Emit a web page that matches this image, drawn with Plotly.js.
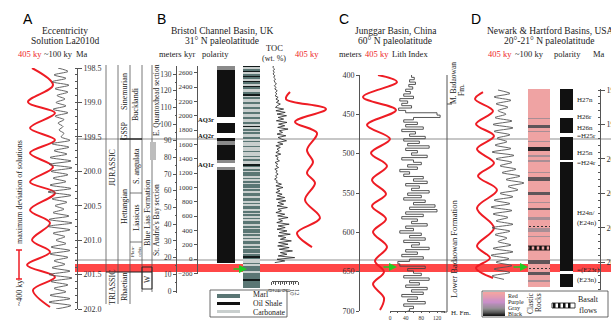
<!DOCTYPE html>
<html><head><meta charset="utf-8">
<script src="https://cdn.plot.ly/plotly-3.0.1.min.js"></script>
<style>html,body{margin:0;padding:0;background:#fff}#chart{width:611px;height:320px}</style>
</head><body><div id="chart"></div>
<script>
// ---------------- DATA ----------------
// Panel A: La2010d eccentricity (405 ky red, ~100 ky gray), vs age (Ma)
const aRedMa = [198.500,198.747,198.994,199.153,199.371,199.546,199.734,199.938,200.156,200.315,200.562,200.751,200.998,201.172,201.361,201.535,201.724,201.971];
const aRedE  = [8,29,4,31,6,31,6,29,6,31,6,26,8,26,3,31,9,26];
const aGrayMa = [198.50,198.55,198.60,198.65,198.70,198.75,198.80,198.85,198.90,198.95,199.00,199.05,199.10,199.15,199.20,199.25,199.30,199.35,199.40,199.45,199.50,199.55,199.60,199.65,199.70,199.75,199.80,199.85,199.90,199.95,200.00,200.05,200.10,200.15,200.20,200.25,200.30,200.35,200.40,200.45,200.50,200.55,200.60,200.65,200.70,200.75,200.80,200.85,200.90,200.95,201.00,201.05,201.10,201.15,201.20,201.25,201.30,201.35,201.40,201.45,201.50,201.55,201.60,201.65,201.70,201.75,201.80,201.85,201.90,201.95,202.00];
const aGrayE = [14,24,10,22,8,25,11,24,13,21, 12,22,9,24,11,20,14,19,15,20, 17,26,8,25,10,23,6,27,5,28, 7,24,9,22,6,27,4,27,8,23, 11,20,9,25,5,28,4,26,9,21, 12,22,7,26,6,24,10,21,8,26, 5,28,7,24,10,22,6,26,5,27, 12];

// Panel B: Bristol Channel Basin
const bPolTop  = [134.8,132.4,104.3,100.7,94.7,91.7,89.9,87.5,78.5,76.7,74.3,72.5];
const bPolBot  = [132.4,104.3,100.7,94.7,91.7,89.9,87.5,78.5,76.7,74.3,72.5,16.8];
const bPolType = ['g','k','w','k','w','k','g','k','g','w','g','k'];
const bPolLabels = ['AQ3r','AQ2r','AQ1r'];
const bPolLabelM = [102.5,93.0,75.5];
const bLithTopM = 135;
const bLithCodes = ("OCMOCMOMCO"+"MCOMCCMOCM"+"CCMCCMCCMC"+"CMCCMCOCMC"+"MCCMCMCCMC"+"CMCCMCMCCO"+"MCMCMMCMCM"+
                    "CMMCMCMMCM"+"MCMCMMCMCM"+"CMCMMCMCMM"+"CMCMCMMCMC"+"MMCMOMCCMC"+"MMMCMMMMOMMMM").split('');
const bTocM = [135,134,133,132,131,130,129,128,127,126,125,124,123,122,121,120,119,118,117,116,115,114,113,112,111,110,109,108,107,106,105,104,103,102,101,100,99,98,97,96,95,94,93,92,91,90,89,88,87,86,85,84,83,82,81,80,79,78,77,76,75,74,73,72,71,70,69,68,67,66,65,64,63,62,61,60,59,58,57,56,55,54,53,52,51,50,49,48,47,46,45,44,43,42,41,40,39,38,37,36,35,34,33,32,31,30,29,28,27,26,25,24,23,22,21,20,19,18,17];
const bTocVal = [1.0,0.6,1.4,0.8,1.2,0.7,1.5,1.0,1.8,1.2, 1.6,2.2,1.3,2.0,1.5,2.6,1.8,2.4,1.6,3.0, 2.0,3.4,2.2,4.0,2.6,1.8,5.5,2.0,6.2,2.5,
                 6.8,3.0,5.5,2.2,7.0,3.2,6.0,2.8,7.5,3.5, 5.0,2.5,6.5,3.0,4.5,6.8,2.8,5.2,2.0,4.0, 2.5,3.5,2.0,4.2,1.8,3.0,2.4,3.6,1.6,2.8,
                 2.0,3.2,1.5,2.6,2.0,3.0,1.8,2.5,1.4,2.6, 2.2,4.5,2.0,5.2,2.4,3.8,2.0,4.8,2.6,6.0, 2.2,6.5,3.0,5.5,2.5,7.2,3.0,4.5,2.0,6.0,
                 2.8,7.5,3.2,5.0,2.4,8.0,3.0,6.2,2.5,7.0, 3.5,8.5,3.0,6.5,4.0,9.0,3.2,7.5,2.8,8.0, 3.5,9.5,4.0,7.0,3.0,10.5,2.5,6.0,1.5];
const bRedKyr = [2330,2232,2093,1912,1758,1521,1353,1200,1060,823,572,363,167];
const bRedE   = [10,6,46,15,37,27,33,27,35,25,40,17,32];

// Panel C: Junggar Basin
const cRedM = [400.0,408.9,428.0,444.5,463.6,481.4,499.2,515.7,533.5,551.3,566.5,583.1,599.6,618.6,636.4,650.4,665.7,683.5,698.7];
const cRedE = [18,37,3,36,7,30,11,27,12,26,12,26,13,27,15,24,13,24,20];
const cLithM = [400,403,406,409,412,415,418,421,424,427,430,433,436,439,442,445,448,451,454,457,460,463,466,469,472,475,478,481,484,487,490,493,496,499,502,505,508,511,514,517,520,523,526,529,532,535,538,541,544,547,550,553,556,559,562,565,568,571,574,577,580,583,586,589,592,595,598,601,604,607,610,613,616,619,622,625,628,631,634,637,640,643,646,649,652,655,658,661,664,667,670,673,676,679,682,685,688,691,694,697,700];
const cLithIdx = [55,62,50,65,48,58,40,52,35,60, 25,45,30,55,22,40,120,128,60,35, 70,40,85,30,65,50,90,35,75,45, 100,40,70,55,95,30,60,80,45,70,
                  25,50,35,85,60,95,40,75,55,100, 45,80,35,90,60,115,50,120,40,85, 30,70,55,95,40,60,25,80,50,90, 35,75,55,100,40,70,30,85,50,20,
                  25,90,45,60,80,35,100,50,75,40, 95,55,85,30,70,45,90,35,60,50, 45];

// Panel D: Newark & Hartford Basins
const dRedMa = [199.029,199.131,199.305,199.494,199.668,199.857,200.060,200.249,200.452,200.714,201.004,201.266,201.440,201.585,201.730];
const dRedE  = [13,5,23,6,24,7,24,8,27,7,24,7,20,6,23];
const dGrayMa = [199.00,199.05,199.10,199.15,199.20,199.25,199.30,199.35,199.40,199.45,199.50,199.55,199.60,199.65,199.70,199.75,199.80,199.85,199.90,199.95,200.00,200.05,200.10,200.15,200.20,200.25,200.30,200.35,200.40,200.45,200.50,200.55,200.60,200.65,200.70,200.75,200.80,200.85,200.90,200.95,201.00,201.05,201.10,201.15,201.20,201.25,201.30,201.35,201.40,201.45,201.50,201.55,201.60,201.65,201.70,201.75];
const dGrayE = [12,24,8,25,10,22,12,20,9,26, 7,27,8,24,11,21,9,25,6,28, 10,26,14,30,16,34,20,38,22,32, 14,27,8,24,5,26,7,22,10,27, 6,24,9,21,12,25,7,27,5,23, 10,26,8,24,6,18];
const dColumnMa = [198.985,201.861];
const dStripeTop  = [199.407,199.508,199.595,199.741,199.828,199.944,200.017,200.191,200.263,200.481,200.626,200.714,200.844,201.004,201.120,201.469,201.643,201.759];
const dStripeBot  = [199.421,199.552,199.610,199.755,199.886,199.973,200.046,200.205,200.322,200.525,200.641,200.743,200.888,201.062,201.135,201.527,201.687,201.788];
const dStripeType = ['gray','dark','gray','gray','black','gray','gray','gray','dark','dark','gray','dark','gray','gray','gray','dark','dark','gray'];
const dDotTop = [200.968,201.578], dDotBot = [200.984,201.594];
const dBasaltTop = [201.265], dBasaltBot = [201.324];
const dPolTop  = [198.985,199.290,199.407,199.624,199.683,200.017,200.046,201.628,201.672];
const dPolBot  = [199.290,199.407,199.624,199.683,200.017,200.046,201.628,201.672,201.861];
const dPolType = ['k','w','k','w','k','w','k','w','k'];
const legendZ = [[0,0],[1,1],[2,2],[3,3],[4,4],[5,5],[6,6],[7,7],[8,8],[9,9]];

// ---------------- HELPERS ----------------
const SERIF = 'Liberation Serif, Times New Roman, serif';
const SANS = 'Liberation Sans, Arial, sans-serif';
const RED = '#ee1c24', AX = '#555';
const W = 611, H = 320;
const px = v => v / W, py = v => 1 - v / H;
const dx = (a, b) => [a / W, b / W];
const dy = (t, b) => [1 - b / H, 1 - t / H];
const hid = (domain, range, anchor) => ({domain, range, anchor, visible:false, fixedrange:true});
const tickStyle = (size) => ({showline:true, linecolor:AX, linewidth:1, ticks:'outside', tickcolor:AX, ticklen:3, tickwidth:1,
  showgrid:false, zeroline:false, fixedrange:true, tickfont:{family:SERIF, size:size, color:'#333'}});
const polColor = {k:'#111', w:'#fff', g:'#8a8a8a'};
const lithColor = {M:'#5a7674', O:'#121a1a', C:'#c9cfce'};
const stripeColor = {gray:'#a88e95', dark:'#5f5559', black:'#2a2628'};

function colBar(tops, bots, colors, xa, ya, extra) {
  return Object.assign({type:'bar', xaxis:xa, yaxis:ya, x:tops.map(() => 0), base:bots.map((b, i) => Math.min(b, tops[i])),
    y:bots.map((b, i) => Math.abs(tops[i] - b)), width:1, marker:{color:colors, line:{width:0}}, hoverinfo:'skip'}, extra || {});
}

// ---------------- TRACES ----------------
const data = [];
data.push({type:'scatter', mode:'lines', x:aRedE, y:aRedMa, xaxis:'x', yaxis:'y', line:{color:RED, width:2, shape:'spline', smoothing:1}});
data.push({type:'scatter', mode:'lines', x:aGrayE, y:aGrayMa, xaxis:'x2', yaxis:'y', line:{color:'#555', width:0.9, shape:'spline', smoothing:0.8}});
data.push(colBar(bPolTop, bPolBot, bPolType.map(t => polColor[t]), 'x3', 'y2'));
const lTop = bLithCodes.map((c, i) => bLithTopM - i), lBot = bLithCodes.map((c, i) => bLithTopM - i - 1);
data.push(colBar(lTop, lBot, bLithCodes.map(c => lithColor[c]), 'x4', 'y2'));
data.push({type:'scatter', mode:'lines', x:bTocVal, y:bTocM, xaxis:'x5', yaxis:'y2', line:{color:'#222', width:0.8}});
data.push({type:'scatter', mode:'lines', x:bRedE, y:bRedKyr, xaxis:'x6', yaxis:'y3', line:{color:RED, width:2, shape:'spline', smoothing:1}});
data.push({type:'scatter', mode:'lines', x:cRedE, y:cRedM, xaxis:'x7', yaxis:'y4', line:{color:RED, width:2, shape:'spline', smoothing:1}});
data.push({type:'scatter', mode:'lines', x:cLithIdx, y:cLithM, xaxis:'x8', yaxis:'y4', line:{color:'#444', width:0.9, shape:'vh'}});
data.push({type:'scatter', mode:'lines', x:dRedE, y:dRedMa, xaxis:'x9', yaxis:'y5', line:{color:RED, width:2, shape:'spline', smoothing:1}});
data.push({type:'scatter', mode:'lines', x:dGrayE, y:dGrayMa, xaxis:'x10', yaxis:'y5', line:{color:'#555', width:0.9, shape:'spline', smoothing:0.8}});
data.push(colBar([dColumnMa[0]], [dColumnMa[1]], ['#efa3a3'], 'x11', 'y5'));
data.push(colBar(dStripeTop, dStripeBot, dStripeType.map(t => stripeColor[t]), 'x11', 'y5'));
data.push(colBar(dDotTop, dDotBot, ['#efa3a3', '#efa3a3'], 'x11', 'y5',
  {marker:{color:'#efa3a3', line:{width:0}, pattern:{shape:'|', fgcolor:'#333', size:4, solidity:0.5}}}));
data.push(colBar(dBasaltTop, dBasaltBot, ['#fff'], 'x11', 'y5',
  {marker:{color:'#fff', line:{width:0.8, color:'#111'}, pattern:{shape:'|', fgcolor:'#111', size:5, solidity:0.5}}}));
data.push(colBar(dPolTop, dPolBot, dPolType.map(t => polColor[t]), 'x12', 'y5'));
data.push({type:'heatmap', z:legendZ, xaxis:'x13', yaxis:'y6', showscale:false, zsmooth:'best', hoverinfo:'skip',
  colorscale:[[0,'#111'],[0.3,'#8c8c8c'],[0.62,'#c98fca'],[1,'#f2a3a3']]});

// ---------------- ANNOTATIONS ----------------
const ann = [];
function T(text, x, y, o) {
  o = o || {};
  ann.push({text, x:px(x), y:py(y), xref:'paper', yref:'paper', showarrow:false, borderpad:0,
    xanchor:o.xa || 'center', yanchor:'middle', textangle:o.rot || 0,
    font:{family:o.fam || SERIF, size:o.size || 9, color:o.color || '#222'}});
}
function ARW(x, y, len) {
  ann.push({text:'', x:px(x), y:py(y), xref:'paper', yref:'paper', showarrow:true, ax:-len, ay:0,
    arrowcolor:'#22cc22', arrowwidth:1.6, arrowhead:2, arrowsize:1});
}
// Panel letters & titles
T('A', 28, 19, {fam:SANS, size:14, color:'#000'});
T('B', 161, 19, {fam:SANS, size:14, color:'#000'});
T('C', 344, 19, {fam:SANS, size:14, color:'#000'});
T('D', 476, 19, {fam:SANS, size:14, color:'#000'});
T('Eccentricity', 65, 31, {size:9.5}); T('Solution La2010d', 65, 41, {size:9.5});
T('405 ky', 30, 54, {size:8.5, color:RED}); T('~100 ky', 58, 54, {size:8.5}); T('Ma', 82, 54, {size:8.5});
T('Bristol Channel Basin, UK', 222, 31, {size:9.5}); T('31° N paleolatitude', 222, 41, {size:9.5});
T('meters', 170, 54, {size:8.5}); T('kyr', 190, 54, {size:8.5}); T('polarity', 215, 54, {size:8.5});
T('TOC', 274, 48, {size:8.5}); T('(wt. %)', 274, 59, {size:8}); T('405 ky', 307, 54, {size:8.5, color:RED});
T('Junggar Basin, China', 396, 31, {size:9.5}); T('60° N paleolatitude', 395, 41, {size:9.5});
T('meters', 350, 54, {size:8.5}); T('405 ky', 377, 54, {size:8.5, color:RED}); T('Lith Index', 410, 54, {size:8.5});
T('Newark & Hartford Basins, USA', 550, 31, {size:9.5}); T('20°-21° N paleolatitude', 549, 41, {size:9.5});
T('405 ky', 500, 54, {size:8.5, color:RED}); T('~100 ky', 529, 54, {size:8.5}); T('polarity', 567, 54, {size:8.5}); T('Ma', 599, 54, {size:8.5});
// Panel A side texts
T('maximum deviation of solutions', 19, 192, {rot:-90, size:8});
T('~400 ky', 19, 293, {rot:-90, size:8});
T('JURASSIC', 112, 168, {rot:-90, size:8}); T('TRIASSIC', 112, 287, {rot:-90, size:8});
T('Sinemurian', 124, 92, {rot:-90, size:8}); T('GSSP', 124, 131, {rot:-90, size:7.5});
T('Hettangian', 124, 207, {rot:-90, size:8}); T('Rhaetian', 124, 287, {rot:-90, size:8});
T('Bucklandi', 136, 104, {rot:-90, size:8}); T('S. angulata', 136, 166, {rot:-90, size:8});
T('Liasicus', 136, 218, {rot:-90, size:8}); T('Plan-<br>orbis', 136, 252, {rot:-90, size:5});
T('W', 147, 279, {rot:-90, size:7.5});
T('Blue Lias Formation', 147, 213, {rot:-90, size:8});
T('E. Quantoxhead section', 156, 100, {rot:-90, size:7.5});
T("St. Audrie's Bay section", 156, 220, {rot:-90, size:7.5});
// Panel B polarity labels
bPolLabels.forEach((s, i) => ann.push({text:'<b>' + s + '</b>', x:px(216), xref:'paper', y:bPolLabelM[i], yref:'y2',
  showarrow:false, xanchor:'right', yanchor:'middle', font:{family:SERIF, size:6.5, color:'#111'}}));
// Panel C formation labels
T('M. Badaowan', 453, 83, {rot:-90, size:7.5}); T('Fm.', 461, 90, {rot:-90, size:7.5});
T('Lower Badaowan Formation', 454, 249, {rot:-90, size:8.5});
T('H. Fm.', 461, 313, {size:7});
// Panel D polarity labels
[['H27n',100],['H26r',117],['H26n',128],['=H25r',136],['H25n',153],['=H24r',163],['H24n/',213],['(E24n)',223],['=(E23r)',270],['(E23n)',280]]
  .forEach(([s, y]) => T(s, 576, y, {xa:'left', size:7}));
// Legends
T('Marl', 252, 294, {xa:'left', size:7.8}); T('Oil Shale', 252, 303, {xa:'left', size:7.8}); T('Carbonate', 252, 312, {xa:'left', size:7.8});
T('Red', 507, 295.5, {xa:'left', size:6}); T('Purple', 507, 301.5, {xa:'left', size:6});
T('Gray', 507, 307.5, {xa:'left', size:6}); T('Black', 507, 313.5, {xa:'left', size:6});
T('Clastic', 530, 303, {rot:-90, size:7.5}); T('Rocks', 538, 303, {rot:-90, size:7.5});
T('Basalt', 588, 299, {size:8}); T('flows', 588, 310, {size:8});
// green arrows
ARW(247, 269, 15); ARW(397, 267, 15); ARW(528, 267, 16);

// ---------------- SHAPES ----------------
const shapes = [];
function L(x0, y0, x1, y1, c, w, layer) {
  shapes.push({type:'line', xref:'paper', yref:'paper', x0:px(x0), y0:py(y0), x1:px(x1), y1:py(y1),
    line:{color:c || AX, width:w || 0.8}, layer:layer || 'above'});
}
function R(x0, y0, x1, y1, fill, lc, lw, layer) {
  shapes.push({type:'rect', xref:'paper', yref:'paper', x0:px(x0), y0:py(y0), x1:px(x1), y1:py(y1),
    fillcolor:fill || 'rgba(0,0,0,0)', line:{color:lc || 'rgba(0,0,0,0)', width:lw || 0}, layer:layer || 'above'});
}
// red CAMP band and correlation lines
R(75, 264, 611, 272, 'rgba(255,45,45,0.88)', null, 0, 'below');
L(76, 139, 611, 139, '#8f8f8f', 1, 'below');
L(75, 260, 611, 260, '#8f8f8f', 1, 'below');
// panel A stratigraphic columns
[106, 118, 130, 142, 152].forEach(x => L(x, 65, x, x < 131 ? 304 : 292, AX, 0.8));
L(130, 193, 142, 193); L(130, 242, 142, 242);
L(106, 272, 152, 272, '#222', 1.2);
L(120, 139, 142, 139, '#222', 1.4);
R(142, 267, 152, 289, null, '#222', 0.9);
R(150, 142, 156, 160, '#bdbdbd', null, 0);
// error bar
L(19, 250, 19, 279, RED, 1.5); L(16, 250, 22, 250, RED, 1.5); L(16, 279, 22, 279, RED, 1.5);
// panel C formation bracket
L(447, 75, 447, 312, AX, 1); L(447, 104, 452, 104, AX, 1); L(441, 312, 447, 312, AX, 1);
// legend B
R(210, 290, 287, 317, null, '#444', 0.8);
R(217, 294, 240, 298, '#5a7674'); R(217, 302, 240, 305, '#111'); R(217, 310, 240, 313, '#c9cfce');
// legend D
R(482, 291, 608, 317, null, '#444', 0.8);
R(552, 303, 575, 308, '#fff', '#111', 0.8);
[553, 558, 563, 568].forEach(x => R(x, 303, x + 2.5, 308, '#111'));

// ---------------- LAYOUT ----------------
const layout = {
  width:W, height:H, margin:{l:0, r:0, t:0, b:0}, paper_bgcolor:'#fff', plot_bgcolor:'rgba(0,0,0,0)',
  showlegend:false, barmode:'overlay', bargap:0, font:{family:SERIF, size:8, color:'#222'},
  xaxis:hid(dx(24, 58), [0, 34], 'y'),
  xaxis2:hid(dx(44, 76), [0, 32], 'y'),
  yaxis:Object.assign(tickStyle(8), {domain:dy(68, 309), range:[202.0, 198.5], anchor:'free', position:px(77), side:'right',
    tick0:198.5, dtick:0.5, tickformat:'.1f', ticklen:4, minor:{ticks:'inside', dtick:0.1, tick0:198.5, ticklen:2.5, tickcolor:AX, showgrid:false}}),
  yaxis2:Object.assign(tickStyle(7.5), {domain:dy(66, 293), range:[-1.2, 134.8], anchor:'free', position:px(176), side:'left',
    tick0:0, dtick:10, minor:{ticks:'outside', dtick:5, ticklen:1.5, tickcolor:AX, showgrid:false}}),
  yaxis3:Object.assign(tickStyle(7), {domain:dy(66, 274), range:[-209, 2693], anchor:'free', position:px(197), side:'left',
    tick0:0, dtick:200}),
  xaxis3:hid(dx(217, 235), [-0.5, 0.5], 'y2'),
  xaxis4:hid(dx(243, 260), [-0.5, 0.5], 'y2'),
  xaxis5:Object.assign(tickStyle(6.5), {domain:dx(271.5, 298), range:[0, 12], anchor:'free', position:py(281), side:'bottom',
    tick0:0, dtick:2, ticklen:2.5, minor:{ticks:'outside', dtick:1, ticklen:1.5, tickcolor:AX, showgrid:false}}),
  xaxis6:hid(dx(280, 335), [0, 55], 'y3'),
  yaxis4:Object.assign(tickStyle(8), {domain:dy(75, 311), range:[700, 400], anchor:'free', position:px(359), side:'left',
    tick0:400, dtick:50, ticklen:3}),
  xaxis7:hid(dx(360, 400), [0, 40], 'y4'),
  xaxis8:Object.assign(tickStyle(5.5), {domain:dx(390, 445), range:[0, 140.4], anchor:'free', position:py(310.5), side:'bottom',
    tick0:0, dtick:40, ticklen:1.5, minor:{ticks:'outside', dtick:20, ticklen:1, tickcolor:AX, showgrid:false}}),
  yaxis5:Object.assign(tickStyle(8), {domain:dy(89, 290), range:[201.904, 198.985], anchor:'free', position:px(600), side:'right',
    tick0:199, dtick:0.5, tickformat:'.1f', ticklen:4, minor:{ticks:'inside', dtick:0.1, tick0:199, ticklen:2.5, tickcolor:AX, showgrid:false}}),
  xaxis9:hid(dx(470, 500), [0, 30], 'y5'),
  xaxis10:hid(dx(486, 528), [0, 42], 'y5'),
  xaxis11:hid(dx(528, 550), [-0.5, 0.5], 'y5'),
  xaxis12:hid(dx(560, 573), [-0.5, 0.5], 'y5'),
  xaxis13:hid(dx(483, 505), [-0.5, 1.5], 'y6'),
  yaxis6:hid(dy(292, 316.5), [-0.5, 9.5], 'x13'),
  annotations:ann, shapes:shapes
};
Plotly.newPlot('chart', data, layout, {staticPlot:true, displayModeBar:false});
</script></body></html>
